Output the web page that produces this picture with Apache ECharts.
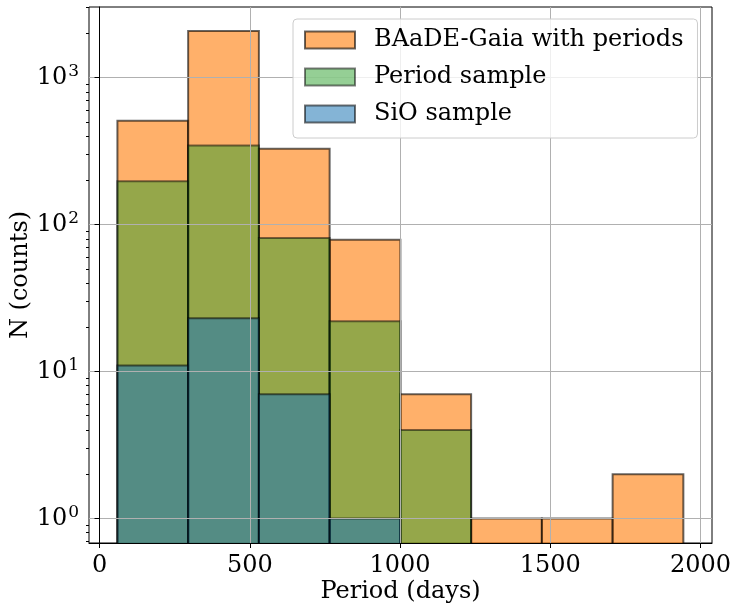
<!DOCTYPE html>
<html>
<head>
<meta charset="utf-8">
<script src="https://cdn.jsdelivr.net/npm/echarts@6/dist/echarts.min.js"></script>
<style>
  html, body { margin: 0; padding: 0; background: #fff; }
  #chart { width: 732px; height: 605px; }
</style>
</head>
<body>
<div id="chart"></div>
<script>
// Histogram bin edges (days)
const binEdges = [59.5, 294.9, 530.3, 765.7, 1001.1, 1236.5, 1471.9, 1707.3, 1942.7];

// Counts per bin for each sample
const gaiaCounts   = [509, 2076, 328, 79, 7, 1, 1, 2];
const periodCounts = [197, 346, 81, 22, 4, 0, 0, 0];
const sioCounts    = [11, 23, 7, 1, 0, 0, 0, 0];

const seriesNames = ['BAaDE-Gaia with periods', 'Period sample', 'SiO sample'];

// Tick positions
const xTicks = [0, 500, 1000, 1500, 2000];
const yTicks = [1, 10, 100, 1000];
const yMinorTicks = [0.7, 0.8, 0.9, 2, 3, 4, 5, 6, 7, 8, 9,
                     20, 30, 40, 50, 60, 70, 80, 90,
                     200, 300, 400, 500, 600, 700, 800, 900, 2000, 3000];

const FONT = 'DejaVu Serif';
const X_MIN = -35, X_MAX = 2038;
const Y_MIN = 0.68, Y_MAX = 3030;

const styles = [
  { fill: 'rgba(255,127,14,0.62)', stroke: 'rgba(0,0,0,0.6)' },
  { fill: 'rgba(44,160,44,0.5)',   stroke: 'rgba(0,0,0,0.5)' },
  { fill: 'rgba(31,119,180,0.55)', stroke: 'rgba(0,0,0,0.55)' }
];

function toBins(counts) {
  const rows = [];
  counts.forEach((n, i) => {
    if (n > 0) rows.push([binEdges[i], binEdges[i + 1], n]);
  });
  return rows;
}

function makeHist(name, counts, st) {
  return {
    name: name,
    type: 'custom',
    clip: true,
    itemStyle: { color: st.fill, borderColor: st.stroke, borderWidth: 2 },
    encode: { x: [0, 1], y: 2 },
    data: toBins(counts),
    renderItem: function (params, api) {
      const x0 = api.value(0), x1 = api.value(1), n = api.value(2);
      const tl = api.coord([x0, n]);
      const tr = api.coord([x1, n]);
      const cs = params.coordSys;
      const bottom = cs.y + cs.height + 4;
      return {
        type: 'rect',
        shape: { x: tl[0], y: tl[1], width: tr[0] - tl[0], height: bottom - tl[1] },
        style: { fill: st.fill, stroke: st.stroke, lineWidth: 2 }
      };
    }
  };
}

function powLabel(v) {
  const e = Math.round(Math.log10(v));
  if (Math.abs(v - Math.pow(10, e)) > 1e-6 * v) return '';
  return '{b|10}{s|' + e + '}';
}

const chart = echarts.init(document.getElementById('chart'), null, { renderer: 'canvas' });

chart.setOption({
  animation: false,
  textStyle: { fontFamily: FONT },
  grid: {
    left: 89, right: 20, top: 7, bottom: 62,
    outerBoundsMode: 'none', containLabel: false,
    show: true, borderColor: '#000', borderWidth: 1, backgroundColor: 'transparent'
  },
  legend: {
    orient: 'vertical',
    left: 293, top: 19,
    padding: [9, 14, 12, 11],
    itemGap: 13,
    itemWidth: 50, itemHeight: 17,
    icon: 'rect',
    backgroundColor: 'rgba(255,255,255,0.8)',
    borderColor: '#cccccc', borderWidth: 1, borderRadius: 4,
    z: 10,
    textStyle: { fontFamily: FONT, fontSize: 24, color: '#000', lineHeight: 24, padding: [0, 0, 0, 14] },
    data: seriesNames.map((n, i) => ({
      name: n,
      itemStyle: { color: styles[i].fill, borderColor: styles[i].stroke, borderWidth: 2 }
    }))
  },
  xAxis: {
    type: 'value', min: X_MIN, max: X_MAX, z: 5,
    name: 'Period (days)', nameLocation: 'middle', nameGap: 37, nameMoveOverlap: false,
    nameTextStyle: { fontFamily: FONT, fontSize: 24, color: '#000' },
    axisLine: { show: true, onZero: false, lineStyle: { color: '#000', width: 1 } },
    axisTick: { show: true, length: 5, customValues: xTicks, lineStyle: { color: '#000', width: 1 } },
    axisLabel: {
      customValues: xTicks, fontFamily: FONT, fontSize: 24, color: '#000', margin: 11,
      formatter: v => String(Math.round(v))
    },
    splitLine: { show: true, lineStyle: { color: '#b0b0b0', width: 1 } }
  },
  yAxis: [
    {
      type: 'log', logBase: 10, min: Y_MIN, max: Y_MAX, z: 5,
      name: 'N (counts)', nameLocation: 'middle', nameGap: 56, nameMoveOverlap: false,
      nameTextStyle: { fontFamily: FONT, fontSize: 24, color: '#000' },
      axisLine: { show: true, lineStyle: { color: '#000', width: 1 } },
      axisTick: { show: true, length: 5, customValues: yTicks, lineStyle: { color: '#000', width: 1 } },
      axisLabel: {
        customValues: yTicks, margin: 10, formatter: powLabel,
        rich: {
          b: { fontFamily: FONT, fontSize: 24, color: '#000' },
          s: { fontFamily: FONT, fontSize: 17, color: '#000', padding: [0, 0, 12, 1] }
        }
      },
      splitLine: { show: true, lineStyle: { color: '#b0b0b0', width: 1 } }
    },
    {
      type: 'log', logBase: 10, min: Y_MIN, max: Y_MAX, z: 5, position: 'left',
      axisLine: { show: false },
      axisTick: { show: true, length: 3, customValues: yMinorTicks, lineStyle: { color: '#000', width: 1 } },
      axisLabel: { show: false },
      splitLine: { show: false }
    }
  ],
  series: [
    makeHist(seriesNames[0], gaiaCounts, styles[0]),
    makeHist(seriesNames[1], periodCounts, styles[1]),
    makeHist(seriesNames[2], sioCounts, styles[2])
  ]
});
</script>
</body>
</html>
